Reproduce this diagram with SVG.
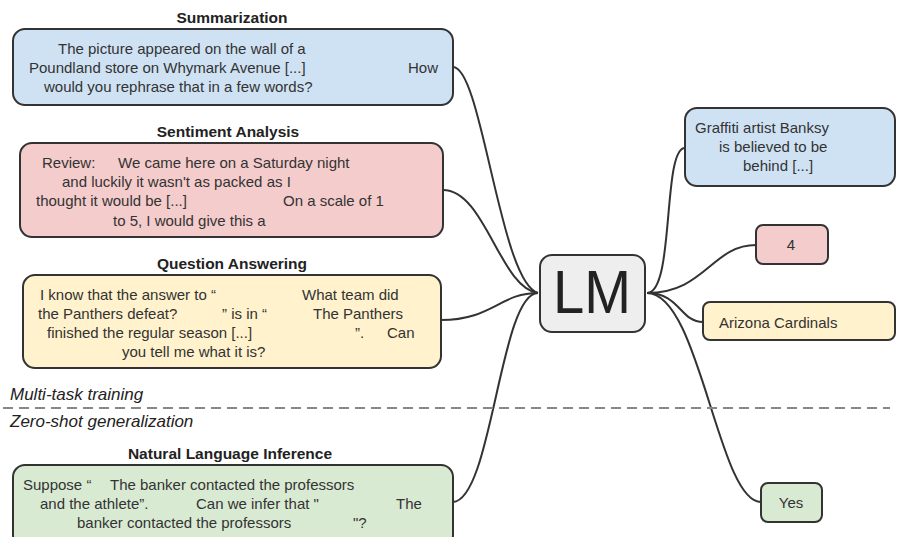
<svg xmlns="http://www.w3.org/2000/svg" width="906" height="537" viewBox="0 0 906 537">
  <style>
    .box { stroke: #333; stroke-width: 2; }
    .blue { fill: #cfe2f3; }
    .pink { fill: #f4cccc; }
    .yellow { fill: #fff2cc; }
    .green { fill: #d9ead3; }
    .grey { fill: #eeeeee; }
    .t { font-family: "Liberation Sans", Arial, sans-serif; font-size: 15px; fill: #333; }
    .title { font-family: "Liberation Sans", Arial, sans-serif; font-size: 15.5px; font-weight: bold; fill: #222; text-anchor: middle; }
    .phase { font-family: "Liberation Sans", Arial, sans-serif; font-size: 17px; font-style: italic; fill: #222; }
    .edge { fill: none; stroke: #333; stroke-width: 2; }
  </style>

  <rect width="906" height="537" fill="#fff"/>

  <!-- connectors -->
  <g id="connectors">
    <path class="edge" d="M453,67 C482,67 500,282 538,293"/>
    <path class="edge" d="M443,190 C485,190 500,288 538,293"/>
    <path class="edge" d="M441,320 C492,320 500,293 538,293"/>
    <path class="edge" d="M453,502 C492,500 500,293 538,293"/>
    <path class="edge" d="M647,293 C675,293 662,148 685,148"/>
    <path class="edge" d="M647,293 C705,293 712,245 756,245"/>
    <path class="edge" d="M647,293 C680,293 680,322 703,322"/>
    <path class="edge" d="M647,293 C700,293 718,502 761,502"/>
  </g>

  <!-- phase separator -->
  <g id="phases">
    <line x1="3" y1="408" x2="890" y2="408" stroke="#888" stroke-width="2" stroke-dasharray="10 6"/>
    <text class="phase" x="10" y="400">Multi-task training</text>
    <text class="phase" x="10" y="427">Zero-shot generalization</text>
  </g>

  <g id="summarization">
    <text class="title" x="232" y="23">Summarization</text>
    <rect class="box blue" x="13" y="29" width="440" height="76" rx="12"/>
    <text class="t" x="58" y="54">The picture appeared on the wall of a</text>
    <text class="t" x="29" y="73">Poundland store on Whymark Avenue [...]</text>
    <text class="t" x="408" y="73">How</text>
    <text class="t" x="44" y="92">would you rephrase that in a few words?</text>
  </g>

  <g id="sentiment">
    <text class="title" x="228" y="137">Sentiment Analysis</text>
    <rect class="box pink" x="20" y="143" width="423" height="94" rx="12"/>
    <text class="t" x="42" y="168">Review:</text>
    <text class="t" x="118" y="168">We came here on a Saturday night</text>
    <text class="t" x="62" y="187">and luckily it wasn't as packed as I</text>
    <text class="t" x="36" y="206">thought it would be [...]</text>
    <text class="t" x="283" y="206">On a scale of 1</text>
    <text class="t" x="113" y="226">to 5, I would give this a</text>
  </g>

  <g id="qa">
    <text class="title" x="232" y="269">Question Answering</text>
    <rect class="box yellow" x="23" y="275" width="418" height="93" rx="12"/>
    <text class="t" x="40" y="300">I know that the answer to “</text>
    <text class="t" x="302" y="300">What team did</text>
    <text class="t" x="38" y="319">the Panthers defeat?</text>
    <text class="t" x="222" y="319">” is in “</text>
    <text class="t" x="313" y="319">The Panthers</text>
    <text class="t" x="47" y="338">finished the regular season [...]</text>
    <text class="t" x="355" y="338">”.</text>
    <text class="t" x="387" y="338">Can</text>
    <text class="t" x="122" y="357">you tell me what it is?</text>
  </g>

  <g id="nli">
    <text class="title" x="230" y="459">Natural Language Inference</text>
    <rect class="box green" x="13" y="465" width="440" height="82" rx="12"/>
    <text class="t" x="23" y="490">Suppose “</text>
    <text class="t" x="110" y="490">The banker contacted the professors</text>
    <text class="t" x="40" y="509">and the athlete”.</text>
    <text class="t" x="196" y="509">Can we infer that "</text>
    <text class="t" x="396" y="509">The</text>
    <text class="t" x="77" y="528">banker contacted the professors</text>
    <text class="t" x="353" y="528">"?</text>
  </g>

  <g id="lm">
    <rect class="box grey" x="540" y="255" width="105" height="77" rx="12" stroke-width="2.5"/>
    <text x="592" y="313" text-anchor="middle" font-family="Liberation Sans, Arial, sans-serif" font-size="62" fill="#222" textLength="78" lengthAdjust="spacingAndGlyphs">LM</text>
  </g>

  <g id="out-summary">
    <rect class="box blue" x="685" y="108" width="210" height="78" rx="12"/>
    <text class="t" x="695" y="133">Graffiti artist Banksy</text>
    <text class="t" x="719" y="152">is believed to be</text>
    <text class="t" x="743" y="171">behind [...]</text>
  </g>

  <g id="out-sentiment">
    <rect class="box pink" x="756" y="225" width="72" height="39" rx="7"/>
    <text class="t" x="791" y="250" text-anchor="middle">4</text>
  </g>

  <g id="out-qa">
    <rect class="box yellow" x="703" y="302" width="192" height="38" rx="7"/>
    <text class="t" x="719" y="328">Arizona Cardinals</text>
  </g>

  <g id="out-nli">
    <rect class="box green" x="761" y="483" width="61" height="39" rx="7"/>
    <text class="t" x="791" y="508" text-anchor="middle">Yes</text>
  </g>
</svg>
